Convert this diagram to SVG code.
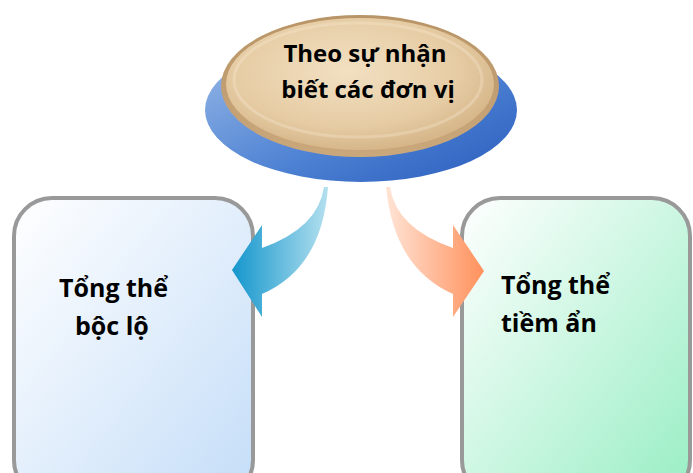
<svg xmlns="http://www.w3.org/2000/svg" width="693" height="473" viewBox="0 0 693 473">
  <defs>
    <linearGradient id="gBoxBlue" x1="0" y1="0" x2="1" y2="1">
      <stop offset="0" stop-color="#ffffff"/>
      <stop offset="1" stop-color="#c4ddf8"/>
    </linearGradient>
    <linearGradient id="gBoxGreen" x1="0" y1="0" x2="1" y2="1">
      <stop offset="0" stop-color="#ffffff"/>
      <stop offset="1" stop-color="#98eec4"/>
    </linearGradient>
    <linearGradient id="gBase" x1="0" y1="0" x2="1" y2="1">
      <stop offset="0" stop-color="#9dbde8"/>
      <stop offset="0.6" stop-color="#4a7fd2"/>
      <stop offset="1" stop-color="#2a5cbc"/>
    </linearGradient>
    <radialGradient id="gDisc" cx="0.45" cy="0.4" r="0.6">
      <stop offset="0" stop-color="#f2e0c2"/>
      <stop offset="0.7" stop-color="#e6cca4"/>
      <stop offset="1" stop-color="#d6b68a"/>
    </radialGradient>
    <linearGradient id="gRim" x1="0" y1="0" x2="0" y2="1">
      <stop offset="0" stop-color="#b89466"/>
      <stop offset="1" stop-color="#caa87c"/>
    </linearGradient>
    <linearGradient id="gArrowBlue" x1="1" y1="0" x2="0" y2="0">
      <stop offset="0" stop-color="#b4e0ef"/>
      <stop offset="1" stop-color="#1496cc"/>
    </linearGradient>
    <linearGradient id="gArrowOrange" x1="0" y1="0" x2="1" y2="0">
      <stop offset="0" stop-color="#ffe4d6"/>
      <stop offset="1" stop-color="#ff915c"/>
    </linearGradient>
  </defs>
  <style>
    .box { stroke: #999999; stroke-width: 4; }
    .lbl { font-family: "Open Sans", "Liberation Sans", sans-serif; font-weight: bold; fill: #000000; }
  </style>

  <g id="node-boclo">
    <rect class="box" x="14" y="198" width="239" height="300" rx="38" ry="38" fill="url(#gBoxBlue)"/>
    <text class="lbl" font-size="25" x="59" y="297">Tổng thể</text>
    <text class="lbl" font-size="25" x="75" y="335">bộc lộ</text>
  </g>

  <g id="node-tieman">
    <rect class="box" x="462" y="198" width="228" height="300" rx="38" ry="38" fill="url(#gBoxGreen)"/>
    <text class="lbl" font-size="25" x="501" y="294">Tổng thể</text>
    <text class="lbl" font-size="25" x="501" y="332">tiềm ẩn</text>
  </g>

  <g id="connectors">
    <path d="M324 187 Q318 228 262 248 L262 225 L232 270 L262 317 L262 294 Q322 268 328 187 Z" fill="url(#gArrowBlue)"/>
    <path d="M390 187 Q396 228 453 248 L453 225 L484 271 L453 317 L453 294 Q394 268 386 187 Z" fill="url(#gArrowOrange)"/>
  </g>

  <g id="node-root">
    <ellipse cx="361" cy="110" rx="156" ry="72" fill="url(#gBase)"/>
    <ellipse cx="360" cy="86" rx="139" ry="71" fill="url(#gRim)"/>
    <ellipse cx="360" cy="84" rx="134" ry="66" fill="url(#gDisc)"/>
    <ellipse cx="358" cy="80" rx="124" ry="57" fill="none" stroke="#f6e8d0" stroke-width="3" opacity="0.35"/>
    <text class="lbl" font-size="24" x="365" y="62" text-anchor="middle">Theo sự nhận</text>
    <text class="lbl" font-size="24" x="368" y="98" text-anchor="middle">biết các đơn vị</text>
  </g>
</svg>
